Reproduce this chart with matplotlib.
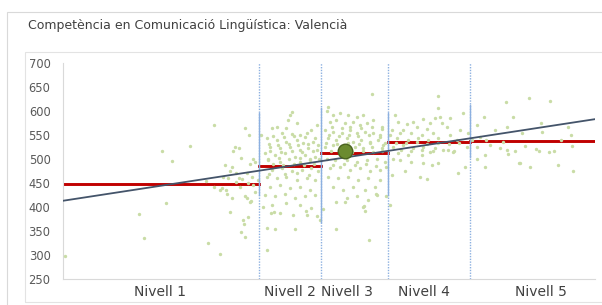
import matplotlib
matplotlib.use("Agg")
from matplotlib import pyplot as plt
from matplotlib.patches import Rectangle

# level boundaries on the x scale (0-100) and mean score of each level
limits = [0, 36.8, 48.5, 61.1, 76.5, 100]
means = [448, 486, 512, 535, 537]
labels = ["Nivell 1", "Nivell 2", "Nivell 3", "Nivell 4", "Nivell 5"]
label_pos = [18.2, 42.7, 53.4, 67.9, 89.8]

# solid part of each boundary line (score range)
seg_low = [425, 369, 425, 505]
seg_high = [596, 606, 596, 612]

# regression line ends
reg_x = [0, 100]
reg_y = [413, 583]

# mean of the centre
centre_x = [53.0]
centre_y = [517]

# school scores
pts_x = [
    0.4, 18.6, 20.5, 23.9, 19.3, 14.3, 15.2, 28.3, 30.5, 30.1, 31.4,
    26.8, 29.8, 30.6, 31.3, 34.6, 35.3, 33.8, 34.0, 34.7, 33.4, 34.3, 27.2, 29.5, 33.1, 32.6, 35.8,
    34.2, 35.0, 32.3, 32.0, 33.1, 35.8, 36.1, 35.2, 33.4, 31.7, 32.6, 33.6, 31.1, 34.8, 34.5,
    35.5, 29.5, 30.8, 33.3, 36.1, 31.7, 34.2, 35.2, 36.7, 28.3,
    43.0, 42.7, 42.3, 43.9, 42.0, 40.2, 39.2, 41.1, 43.0, 44.5, 45.8, 46.7, 47.7,
    38.3, 40.2, 42.0, 43.9, 45.2, 47.0,
    38.9, 40.8, 42.7, 44.5, 46.1, 47.7,
    38.0, 39.8, 41.7, 43.6, 45.5, 47.4,
    38.6, 40.8, 44.5, 46.4,
    39.2, 41.1, 43.0, 44.9, 46.7, 48.0,
    38.3, 40.2, 42.0, 43.9, 45.8, 47.4,
    38.9, 40.8, 42.7, 44.5, 46.4,
    38.0, 39.8, 41.7, 43.6, 45.5, 47.4,
    39.2, 42.0, 44.5, 46.7,
    40.8, 43.3, 45.8,
    38.3, 38.3, 39.8, 43.6, 39.1, 39.7, 37.5, 45.6, 47.7, 48.4, 48.8, 37.2,
    39.5, 41.5, 43.5, 45.5, 47.3, 38.7, 40.5, 42.4, 44.2, 46.0, 47.9,
    39.0, 41.0, 43.1, 45.0, 46.9, 38.5, 40.6, 42.5, 44.6, 46.5, 48.1,
    39.4, 41.4, 43.4, 45.3, 47.2, 38.8, 41.8, 44.0, 46.2,
    58.0, 49.9, 49.6, 50.8, 52.1, 53.6, 55.2, 56.4,
    50.2, 51.4, 53.0, 54.6, 55.8, 57.1, 58.3, 59.9,
    49.2, 50.8, 52.4, 53.9, 55.2, 56.8, 58.3, 59.6,
    49.9, 51.4, 53.3, 54.6, 56.1, 57.7, 59.3, 60.5,
    49.2, 50.8, 54.9, 56.4, 58.0, 59.9,
    49.6, 51.1, 53.3, 55.2, 57.1, 59.0, 60.5,
    50.2, 52.1, 53.9, 55.8, 57.7, 59.6,
    49.9, 51.7, 53.6, 55.5, 57.4, 59.6,
    50.8, 52.7, 54.6, 56.8, 58.6,
    53.3, 55.2, 57.4, 59.0, 56.4, 51.4,
    53.0, 56.6, 56.7, 57.5, 58.8, 51.4,
    50.5, 52.5, 54.0, 56.0, 58.0, 60.0, 50.0, 51.8, 53.8, 55.5, 57.5, 59.5,
    49.5, 51.5, 53.5, 55.6, 57.8, 60.2, 50.3, 52.3, 54.3, 56.3, 58.3, 60.0,
    50.8, 52.8, 54.8, 56.9, 58.9,
    70.4, 70.5, 62.4, 75.1, 70.9, 69.9, 72.7, 67.7, 65.8, 63.0, 69.0, 64.6, 71.2,
    61.8, 64.0, 66.5, 68.4, 72.1, 74.6,
    61.5, 63.3, 65.5, 67.4, 69.6, 72.7, 76.2,
    62.7, 64.9, 66.8, 68.7, 70.5, 74.0,
    62.1, 64.0, 65.8, 67.7, 69.9, 72.4, 75.9,
    63.0, 64.9, 67.4, 69.0, 73.4,
    63.3, 65.5, 62.1, 67.7, 69.3, 70.5,
    60.8, 64.3, 74.3, 67.1, 68.4, 61.8, 75.6,
    60.7, 61.5,
    62.5, 64.5, 66.5, 68.5, 70.5, 72.5, 74.5, 63.5, 65.5, 67.5, 69.5, 71.5, 73.5,
    87.5, 83.2, 91.5, 79.1, 84.6, 89.8, 77.8, 83.4, 81.2, 86.3, 90.0, 94.9, 95.5,
    78.4, 79.6, 76.9, 82.8, 93.7, 80.3, 77.8, 82.1, 83.4, 86.8, 95.6, 85.0, 89.0,
    89.5, 91.4, 92.2, 79.3, 83.6, 77.9, 85.7, 93.1, 79.3, 87.8, 95.9, 85.9,
]
pts_y = [
    298, 517, 496, 528, 408, 385, 335, 571, 487, 463, 474,
    454, 439, 435, 390, 419, 412, 373, 364, 380, 348, 337, 324, 302, 460, 453, 446,
    565, 551, 526, 517, 522, 500, 493, 489, 503, 483, 470, 458, 460, 449, 470,
    463, 435, 428, 442, 432, 418, 422, 411, 456, 442,
    597, 592, 581, 574, 564, 567, 564, 554, 552, 550, 554, 560, 571,
    543, 540, 536, 540, 533, 536,
    526, 522, 526, 519, 522, 519,
    512, 508, 512, 505, 508, 505,
    498, 494, 494, 498,
    477, 481, 474, 477, 481, 474,
    463, 460, 463, 456, 460, 456,
    442, 446, 439, 442, 435,
    425, 422, 428, 418, 422, 425,
    404, 408, 404, 397,
    387, 383, 383,
    311, 357, 354, 355, 387, 390, 399, 392, 382, 372, 396, 551,
    547, 545, 548, 546, 544, 531, 530, 532, 529, 531, 530,
    516, 515, 517, 514, 516, 501, 502, 500, 503, 501, 500,
    489, 488, 490, 487, 489, 469, 468, 470, 467,
    635, 609, 599, 592, 595, 592, 588, 592,
    578, 581, 574, 578, 571, 574, 581, 567,
    560, 557, 554, 560, 554, 557, 554, 550,
    543, 540, 543, 536, 540, 536, 540, 533,
    526, 529, 526, 522, 526, 522,
    501, 498, 498, 494, 498, 501, 494,
    481, 484, 477, 481, 474, 477,
    463, 460, 463, 456, 460, 456,
    442, 435, 442, 435, 442,
    418, 422, 415, 425, 401, 411,
    410, 402, 391, 331, 428, 354,
    566, 565, 567, 564, 566, 563, 549, 548, 550, 547, 549, 546,
    533, 532, 534, 531, 533, 530, 516, 518, 515, 517, 514, 516,
    488, 490, 487, 489, 486,
    632, 607, 592, 595, 588, 585, 585, 583, 578, 578, 574, 572, 574,
    560, 560, 567, 562, 566, 560,
    550, 554, 555, 550, 554, 550, 554,
    543, 540, 543, 540, 543, 540,
    526, 529, 522, 526, 522, 519, 526,
    512, 508, 508, 515, 515,
    498, 494, 501, 491, 488, 492,
    484, 474, 470, 463, 458, 467, 483,
    422, 404,
    534, 533, 535, 532, 534, 531, 533, 518, 517, 519, 516, 518, 517,
    628, 618, 621, 587, 588, 574, 571, 567, 560, 554, 556, 567, 550,
    546, 540, 540, 535, 540, 529, 526, 522, 519, 527, 527, 517, 520,
    517, 515, 517, 508, 510, 501, 492, 488, 483, 483, 474, 491,
]

fig = plt.figure(figsize=(6.02, 3.05), dpi=100)
fig.patches.append(Rectangle((7 / 602, -0.01), 1, 1 - 12 / 305 + 0.01, transform=fig.transFigure,
                             fill=False, edgecolor="#d9d9d9", linewidth=0.8))
fig.patches.append(Rectangle((25 / 602, 1 - 302 / 305), 1, (302 - 52) / 305, transform=fig.transFigure,
                             fill=False, edgecolor="#e3e3e3", linewidth=0.8))
fig.text(28 / 602, 1 - 26 / 305, "Competència en Comunicació Lingüística: Valencià",
         fontsize=9, color="#404040", va="center", ha="left")

ax = fig.add_axes([63 / 602, 1 - 279 / 305, (595 - 63) / 602, (279 - 63) / 305])

# mean of each level
for i in range(len(means)):
    ax.plot([limits[i], limits[i + 1]], [means[i], means[i]], color="#c00000", linewidth=2.1, zorder=2)

ax.scatter(pts_x, pts_y, s=6, color="#c9dca6", linewidths=0, zorder=3)

# level boundaries
for i in range(1, len(limits) - 1):
    ax.axvline(limits[i], color="#8cb0e0", linewidth=1, linestyle=(0, (1, 1)), zorder=3.5)
    ax.plot([limits[i], limits[i]], [seg_low[i - 1], seg_high[i - 1]], color="#8cb0e0", linewidth=1, zorder=3.5)

ax.plot(reg_x, reg_y, color="#44546a", linewidth=1.3, zorder=4)
ax.scatter(centre_x, centre_y, s=110, color="#6b8b30", edgecolors="#4a6320", linewidths=1, zorder=5)

ax.set_xlim(0, 100)
ax.set_ylim(250, 700)
ax.set_yticks(range(250, 701, 50))
ax.set_xticks(label_pos, labels)
ax.tick_params(axis="y", length=0, pad=9, labelsize=8.3, labelcolor="#595959")
ax.tick_params(axis="x", length=0, pad=4, labelsize=10, labelcolor="#404040")
for s in ["top", "right"]:
    ax.spines[s].set_visible(False)
for s in ["left", "bottom"]:
    ax.spines[s].set_color("#d9d9d9")
    ax.spines[s].set_linewidth(0.8)

plt.savefig("out.png", dpi=100)
